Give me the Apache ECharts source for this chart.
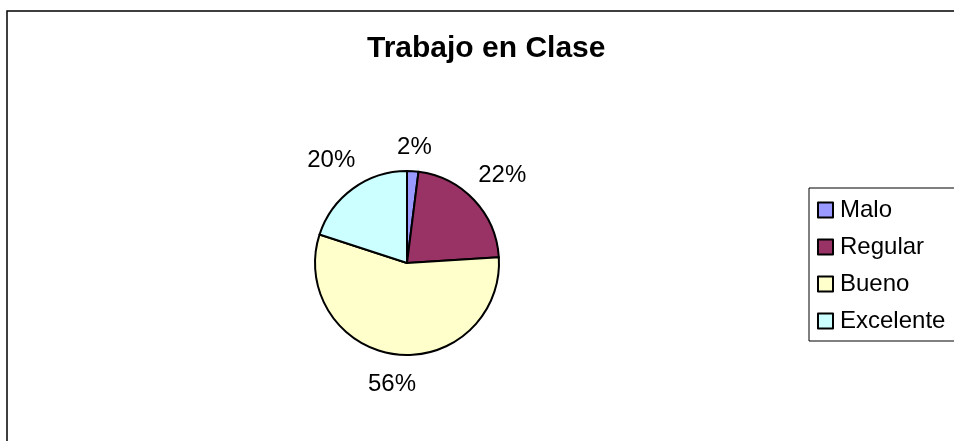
<!DOCTYPE html>
<html>
<head>
<meta charset="utf-8">
<script src="https://cdn.jsdelivr.net/npm/echarts@6/dist/echarts.min.js"></script>
<style>
  html, body { margin: 0; padding: 0; background: #fff; }
  #chart { width: 954px; height: 441px; }
</style>
</head>
<body>
<div id="chart"></div>
<script>
// datos del grafico
var categorias = ['Malo', 'Regular', 'Bueno', 'Excelente'];
var valores = [2, 22, 56, 20];
var colores = ['#9999FF', '#993366', '#FFFFCC', '#CCFFFF'];

var cx = 407, cy = 263, radio = 92;
var total = valores.reduce(function (a, b) { return a + b; }, 0);

// angulo medio de cada porcion (desde arriba, sentido horario)
var angMedio = [];
var acum = 0;
valores.forEach(function (v) {
  angMedio.push((acum + v / 2) / total * Math.PI * 2);
  acum += v;
});

var myChart = echarts.init(document.getElementById('chart'));
var option = {
  backgroundColor: '#fff',
  animation: false,
  textStyle: { fontFamily: 'Liberation Sans, Arial, sans-serif' },
  title: {
    text: 'Trabajo en Clase',
    left: 362,
    top: 29,
    textStyle: {
      fontSize: 30,
      fontWeight: 'bold',
      color: '#000',
      fontFamily: 'Liberation Sans, Arial, sans-serif'
    }
  },
  legend: {
    orient: 'vertical',
    left: 809,
    top: 188,
    padding: [10, 14, 8, 8],
    borderColor: '#000',
    borderWidth: 1,
    itemWidth: 15,
    itemHeight: 15,
    itemGap: 13,
    icon: 'rect',
    itemStyle: { borderColor: '#000', borderWidth: 2 },
    textStyle: {
      fontSize: 24,
      lineHeight: 24,
      color: '#000',
      padding: [0, 0, 0, 2],
      fontFamily: 'Liberation Sans, Arial, sans-serif'
    },
    data: categorias
  },
  graphic: [{
    type: 'rect',
    silent: true,
    shape: { x: 7, y: 11, width: 1000, height: 500 },
    style: { fill: 'none', stroke: '#000', lineWidth: 1.5 }
  }],
  series: [{
    type: 'pie',
    center: [cx, cy],
    radius: radio,
    startAngle: 90,
    clockwise: true,
    avoidLabelOverlap: false,
    itemStyle: { borderColor: '#000', borderWidth: 2 },
    label: {
      show: true,
      position: 'outside',
      formatter: '{d}%',
      fontSize: 24,
      color: '#000',
      fontFamily: 'Liberation Sans, Arial, sans-serif'
    },
    labelLine: { show: false },
    // etiqueta centrada sobre la bisectriz, fuera del circulo
    labelLayout: function (params) {
      var a = angMedio[params.dataIndex];
      var ux = Math.sin(a), uy = -Math.cos(a);
      var w = params.labelRect.width, h = params.labelRect.height;
      var d = radio + 13 + Math.abs(ux) * w / 2 + Math.abs(uy) * h / 2;
      return {
        x: cx + ux * d,
        y: cy + uy * d + 2,
        align: 'center',
        verticalAlign: 'middle'
      };
    },
    data: categorias.map(function (c, i) {
      return { name: c, value: valores[i], itemStyle: { color: colores[i] } };
    })
  }]
};
myChart.setOption(option);
</script>
</body>
</html>
